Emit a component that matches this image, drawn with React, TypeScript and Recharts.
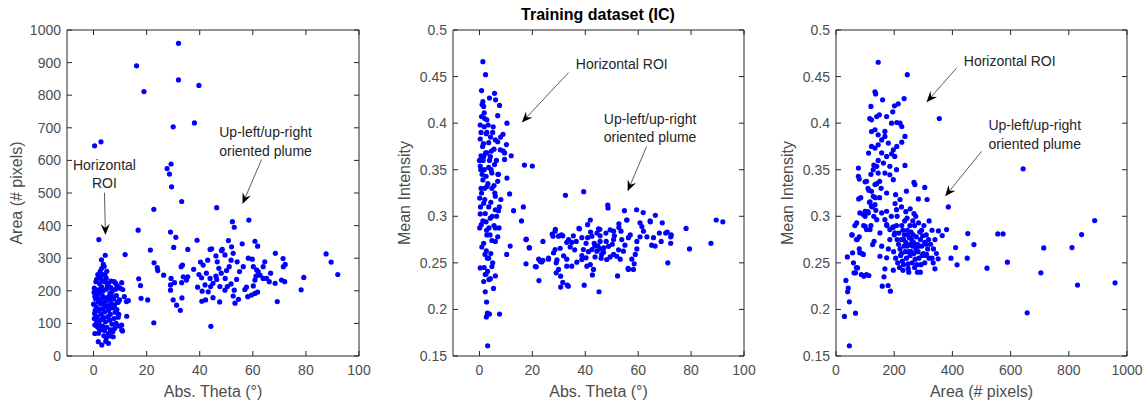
import React from "react";
import {
  ScatterChart,
  Scatter,
  XAxis,
  YAxis,
  ReferenceLine,
  ReferenceDot,
} from "recharts";

// panel 1: abs theta (deg) vs area (# pixels)
const thetaArea: [number, number][] = [
  [0.4, 645], [2.8, 657], [16.2, 890], [19, 811], [32, 959], [32, 847], [39.7, 830], [30, 703], [38, 715],
  [29.2, 589], [27.7, 575], [28.6, 558], [29.4, 519], [33.2, 474], [22.7, 450], [46.4, 455], [16.8, 386],
  [29, 380], [31, 364], [39, 355], [52.3, 412], [53, 395], [58.5, 417], [30.2, 333], [35.5, 327], [21.4, 325],
  [50.8, 354], [60.8, 352], [61.8, 337], [56, 344], [44.5, 329], [48.5, 327], [68.5, 315], [71.4, 299],
  [87.6, 313], [89.5, 288], [92, 250], [79.2, 241], [78.2, 203], [69.2, 167], [72.2, 281], [22.8, 286],
  [24, 271], [24.2, 262], [26.4, 248], [17, 237], [17.7, 216], [17.9, 177], [20.4, 172], [22.7, 102],
  [44.2, 91], [30.5, 225], [30, 172], [31.3, 156], [32.7, 140], [33.3, 178], [29, 202], [29, 218], [29.2, 238],
  [33.5, 279], [33, 274], [33.8, 243], [33.2, 225], [35, 233], [35.5, 243], [37.7, 266], [40.3, 288],
  [41.3, 279], [39.7, 250], [40.7, 240], [39.2, 211], [40.9, 199], [40.8, 168], [42.2, 172], [43.2, 197],
  [45, 179], [47.5, 166], [43, 294], [43.9, 327], [46.1, 307], [46.6, 289], [47.2, 269], [48.1, 254],
  [49.6, 238], [50.4, 213], [49.5, 202], [51.8, 221], [53, 202], [52.6, 184], [53.3, 162], [54.6, 174],
  [57, 204], [57.6, 211], [58.1, 182], [59.5, 187], [60.8, 192], [61.8, 196], [60.2, 215], [60.8, 233],
  [61.2, 245], [62, 259], [60.2, 274], [59.8, 297], [58.3, 300], [56.4, 274], [55, 259], [54.1, 289],
  [52.6, 315], [51.8, 294], [51.1, 274], [50.1, 262], [52, 335], [48.2, 323], [49.5, 310], [42.5, 254],
  [43.9, 238], [45, 223], [46.4, 235], [42, 218], [44.1, 213], [46.1, 245], [47.6, 213], [53.9, 235],
  [63.9, 274], [64.5, 289], [66.7, 254], [65.2, 238], [66.2, 228], [68.4, 223], [70.8, 233], [72, 228],
  [71.5, 274], [61.4, 264], [62.7, 248], [63.9, 238],
  [2.0, 357], [4.4, 309], [11.9, 311], [3.7, 281], [3.1, 269], [4.0, 275], [2.7, 245], [1.2, 235], [4.1, 228],
  [5.6, 223], [7.8, 228], [10.6, 225], [10.0, 208], [0.3, 208], [1.8, 203], [6.2, 192], [0.5, 182], [11.6, 182],
  [13.1, 170], [9.3, 165], [0.0, 159], [4.3, 154], [2.4, 144], [8.1, 134], [12.5, 122], [9.3, 119], [0.5, 95],
  [10.6, 80], [2.4, 80], [0.5, 69], [5.6, 69], [7.4, 59], [1.8, 44], [3.1, 34], [5.6, 39], [4.6, 45],
  [0.8, 175], [1.5, 190], [2.2, 198], [3.0, 212], [3.6, 200], [4.8, 205], [5.2, 216], [6.5, 210], [7.0, 198],
  [8.3, 205], [9.0, 215], [1.0, 150], [1.7, 165], [2.5, 172], [3.3, 185], [4.0, 178], [4.6, 168], [5.3, 180],
  [6.0, 172], [6.8, 160], [7.5, 175], [8.6, 185], [9.8, 172], [0.4, 130], [1.3, 120], [2.0, 138], [2.8, 128],
  [3.5, 145], [4.2, 135], [5.0, 150], [5.7, 140], [6.3, 128], [7.1, 148], [7.9, 155], [8.8, 142], [1.1, 108],
  [2.1, 100], [2.9, 112], [3.8, 118], [4.5, 105], [5.4, 120], [6.1, 110], [6.9, 98], [7.7, 115], [8.5, 100],
  [9.6, 92], [10.9, 77], [1.6, 88], [2.6, 85], [3.4, 92], [4.1, 78], [5.0, 88], [6.4, 80], [7.3, 75], [8.0, 85],
  [1.9, 70], [3.9, 62], [4.8, 55], [6.2, 62], [0.9, 228], [1.9, 240], [2.3, 222], [3.2, 232], [4.8, 238],
  [6.6, 230], [8.4, 222], [0.2, 195], [0.6, 140], [0.3, 115], [1.4, 178], [2.7, 160], [3.8, 162], [5.9, 155],
  [6.7, 185], [8.9, 165], [9.5, 128], [11.0, 204], [12.4, 167], [10.6, 95], [3.0, 295], [2.5, 260], [1.6, 250],
  [3.5, 250], [4.3, 248], [5.0, 260],
];

// panel 2: abs theta (deg) vs mean intensity
const thetaIntensity: [number, number][] = [
  [1.3, 0.466], [2.3, 0.452], [0.8, 0.435], [5.7, 0.432], [3.8, 0.427], [6.1, 0.425], [7.6, 0.419], [1.3, 0.423],
  [1.6, 0.418], [6.9, 0.408], [10.4, 0.4], [5.2, 0.396], [8.9, 0.388], [10.2, 0.377], [9.5, 0.368], [12, 0.365],
  [9.5, 0.361], [10.4, 0.341], [11.4, 0.324], [8.1, 0.318], [12.9, 0.306], [16.6, 0.31], [17, 0.355], [20, 0.354],
  [15.9, 0.295], [11.6, 0.268], [10.3, 0.259], [17.6, 0.275], [18.9, 0.266], [17.6, 0.249], [21.1, 0.246],
  [22.5, 0.231], [24, 0.273], [22.4, 0.254], [23.5, 0.251], [26.1, 0.255], [27.5, 0.281], [28.7, 0.286], [31, 0.28],
  [32.5, 0.3225], [39.4, 0.3264], [37.6, 0.287], [41.9, 0.296], [45.5, 0.286], [48.5, 0.312], [48.6, 0.309],
  [54.8, 0.306], [55.7, 0.296], [59.4, 0.307], [61.9, 0.304], [66.5, 0.301], [64.6, 0.294], [69.1, 0.293],
  [71, 0.283], [72.5, 0.28], [72.3, 0.271], [71.2, 0.25], [78.1, 0.287], [79.4, 0.265], [87.5, 0.271],
  [89.5, 0.296], [92, 0.294], [39.6, 0.226], [45.2, 0.219], [52.2, 0.236], [56.2, 0.244], [58.2, 0.243],
  [33.2, 0.226], [30.7, 0.224], [31.5, 0.229], [42.7, 0.237],
  [3.1, 0.161], [3, 0.196], [2.6, 0.192], [3.8, 0.195], [7.6, 0.195], [2.7, 0.208], [2.2, 0.219], [5.3, 0.2225],
  [1.6, 0.23], [6, 0.236], [4.1, 0.233], [2.2, 0.2375], [3.1, 0.241], [0.3, 0.2446], [4.7, 0.246], [3.5, 0.255],
  [2.1, 0.259], [0.9, 0.267], [2.6, 0.263], [1.6, 0.271], [4.7, 0.274], [6.9, 0.278], [6, 0.273], [2.8, 0.28],
  [7.4, 0.2875], [6, 0.2875], [0.1, 0.2875], [0.7, 0.291], [3.6, 0.2875], [2.5, 0.294], [4.1, 0.298],
  [7.2, 0.306], [6, 0.307], [0.3, 0.3025], [2.2, 0.303], [1.6, 0.314], [4.3, 0.315], [6, 0.3215], [0.1, 0.3196],
  [0.6, 0.33], [2.8, 0.332], [4.7, 0.33], [6.9, 0.3375], [1.3, 0.339], [0, 0.36], [0.3, 0.354], [1.8, 0.35],
  [3.5, 0.3525], [4.7, 0.3465], [7.2, 0.345], [5.7, 0.3555], [2.8, 0.368], [1.6, 0.364], [4.1, 0.364],
  [5.5, 0.372], [7.9, 0.3714], [1.2, 0.375], [3.5, 0.379], [6.9, 0.38], [6, 0.382], [0.3, 0.383], [0.6, 0.39],
  [2.6, 0.3886], [1.8, 0.396], [0.3, 0.398], [2.8, 0.4036], [0.8, 0.407], [1.8, 0.411],
  [1.0, 0.42], [2.0, 0.405], [3.3, 0.398], [4.2, 0.385], [1.5, 0.378], [2.3, 0.368], [3.8, 0.36], [4.5, 0.37],
  [1.0, 0.345], [2.5, 0.343], [3.2, 0.335], [5.5, 0.333], [0.8, 0.325], [2.0, 0.318], [3.5, 0.31], [4.8, 0.3],
  [1.3, 0.295], [2.7, 0.285], [4.0, 0.28], [5.5, 0.29], [6.5, 0.3], [7.0, 0.345], [8.0, 0.385], [9.0, 0.37],
  [6.4, 0.36], [5.0, 0.39], [2.8, 0.39], [0.6, 0.365], [0.4, 0.31], [3.0, 0.255], [4.3, 0.26], [1.8, 0.245],
  [2.5, 0.238], [3.6, 0.232], [5.0, 0.25], [0.5, 0.35], [1.4, 0.36], [2.0, 0.33], [4.4, 0.35], [5.8, 0.325],
  [7.5, 0.31],
  [72.3, 0.278], [70.4, 0.282], [68, 0.282], [65.8, 0.277], [68.7, 0.273], [65.1, 0.269], [66.4, 0.268],
  [63.3, 0.278], [62, 0.284], [61.4, 0.289], [60.7, 0.293], [64.5, 0.295], [55.7, 0.296], [52.7, 0.292],
  [52.7, 0.288], [50.7, 0.284], [49.4, 0.2855], [47.8, 0.282], [45, 0.2865], [44.4, 0.282], [45.6, 0.279],
  [40.9, 0.291], [37.8, 0.2865], [36.6, 0.273], [38.7, 0.277], [40.9, 0.277], [42.5, 0.2786], [40.3, 0.271],
  [43.4, 0.271], [45.6, 0.273], [47.9, 0.273], [50.7, 0.275], [53.8, 0.275], [56.3, 0.277], [59.5, 0.273],
  [60.7, 0.278], [59.5, 0.265], [58.9, 0.259], [57.6, 0.254], [58.5, 0.249], [56.3, 0.243], [33.6, 0.225],
  [28, 0.2607], [28.6, 0.2643], [29.9, 0.2786], [28.6, 0.284], [27.8, 0.2786], [31.5, 0.279], [33.7, 0.275],
  [34.9, 0.272], [33, 0.272], [34.3, 0.2671], [30.5, 0.2657], [31.8, 0.2575], [33, 0.254], [29.3, 0.2532],
  [29, 0.25], [29.9, 0.243], [29, 0.2393], [30.7, 0.2357], [33, 0.2464], [34.9, 0.2464], [36.8, 0.2507],
  [38.7, 0.2536], [40.3, 0.2554], [40.6, 0.2464], [41.9, 0.2482], [43.1, 0.243], [43.7, 0.2564],
  [44.4, 0.2625], [45.6, 0.265], [46.9, 0.2614], [48.1, 0.2536], [49.4, 0.2564], [50.7, 0.259], [51.9, 0.257],
  [53.2, 0.254], [54.4, 0.2625], [52.6, 0.264], [48.8, 0.2678], [42.5, 0.2643], [39.3, 0.2643],
  [38.7, 0.2578], [23, 0.2518], [21.5, 0.2457], [24, 0.2528], [26.1, 0.254], [17.7, 0.2754], [18.8, 0.2664],
  [44.8, 0.268], [46.2, 0.259], [47.0, 0.266], [41.2, 0.262], [43.6, 0.268], [46.0, 0.255], [50.2, 0.27],
  [55.0, 0.269], [57.0, 0.28], [42.0, 0.283], [36.0, 0.264], [35.5, 0.279], [53.5, 0.284], [51.0, 0.279],
];

// panel 3: area (# pixels) vs mean intensity
const areaIntensity: [number, number][] = [
  [145, 0.4654], [245, 0.452], [355, 0.405], [643, 0.351], [386, 0.31], [380, 0.2857], [365, 0.2793],
  [305, 0.331], [313, 0.318], [453, 0.2814], [474, 0.2696], [411, 0.2664], [395, 0.255], [416, 0.2479],
  [451, 0.255], [519, 0.2443], [556, 0.2811], [574, 0.2811], [589, 0.2507], [704, 0.2393], [714, 0.266],
  [811, 0.2664], [844, 0.2804], [889, 0.2954], [830, 0.2261], [959, 0.2286], [657, 0.1964], [352, 0.2843],
  [351, 0.2543], [340, 0.2436], [334, 0.25], [311, 0.259],
  [46, 0.161], [29, 0.1925], [67, 0.196], [46, 0.2082], [40, 0.219], [42, 0.223], [34, 0.2311], [62, 0.2393],
  [39, 0.2564], [57, 0.2607], [55, 0.28], [67, 0.2393], [74, 0.2446], [73, 0.275], [80, 0.278], [82, 0.2607],
  [94, 0.259], [87, 0.2375], [96, 0.2357], [105, 0.2375], [113, 0.2364], [71, 0.2929], [78, 0.3186],
  [77, 0.3429], [77, 0.3518], [82, 0.3036], [94, 0.3018], [100, 0.3054], [111, 0.3036], [105, 0.2857],
  [100, 0.2893], [117, 0.2857], [105, 0.3375], [113, 0.3279], [112, 0.3679], [122, 0.375], [117, 0.3154],
  [122, 0.3107], [126, 0.2696], [131, 0.2732], [122, 0.3268], [128, 0.3214], [134, 0.3125], [137, 0.3064],
  [140, 0.2964],
  [122, 0.4036], [116, 0.405], [120, 0.4179], [134, 0.4336], [136, 0.4314], [160, 0.425], [149, 0.409],
  [140, 0.407], [122, 0.391], [134, 0.3929], [145, 0.3875], [168, 0.3911], [174, 0.407], [191, 0.4],
  [201, 0.4186], [214, 0.4207], [234, 0.4264], [195, 0.4121], [209, 0.4007], [220, 0.4], [226, 0.3964],
  [237, 0.3857], [226, 0.3796], [209, 0.375], [197, 0.3714], [180, 0.3786], [168, 0.3857], [157, 0.382],
  [145, 0.3768], [134, 0.3732], [157, 0.368], [174, 0.3643], [191, 0.3671], [202, 0.3643], [163, 0.3571],
  [185, 0.3536], [237, 0.3546], [140, 0.3536], [128, 0.35], [145, 0.3464], [168, 0.3464], [185, 0.3446],
  [208, 0.35], [197, 0.3393], [150, 0.3375], [134, 0.334], [174, 0.325], [205, 0.3232], [220, 0.318],
  [203, 0.3136], [208, 0.3071], [174, 0.3054], [168, 0.2964], [174, 0.291], [157, 0.3036], [151, 0.2821],
  [185, 0.2857], [197, 0.2886], [202, 0.2821], [157, 0.2679], [174, 0.2554], [151, 0.2571], [168, 0.2436],
  [197, 0.2421], [165, 0.235], [159, 0.225], [179, 0.2257], [187, 0.2196], [242, 0.327], [268, 0.3364],
  [271, 0.334], [283, 0.3186],
  [200, 0.28], [210, 0.275], [215, 0.27], [220, 0.265], [225, 0.26], [230, 0.285], [235, 0.28], [240, 0.272],
  [245, 0.268], [250, 0.262], [255, 0.258], [260, 0.275], [265, 0.28], [270, 0.29], [275, 0.265], [280, 0.27],
  [285, 0.255], [290, 0.275], [295, 0.268], [300, 0.26], [305, 0.272], [310, 0.28], [315, 0.265], [320, 0.255],
  [325, 0.27], [330, 0.285], [335, 0.265], [340, 0.275], [205, 0.255], [212, 0.25], [218, 0.245], [222, 0.258],
  [228, 0.252], [232, 0.248], [238, 0.262], [242, 0.255], [248, 0.249], [252, 0.277], [258, 0.283], [262, 0.268],
  [268, 0.26], [272, 0.254], [278, 0.248], [282, 0.262], [288, 0.283], [292, 0.248], [298, 0.279], [302, 0.29],
  [308, 0.258], [318, 0.275], [195, 0.288], [198, 0.262], [208, 0.29], [226, 0.29], [236, 0.295], [244, 0.298],
  [254, 0.29], [264, 0.295], [274, 0.3], [284, 0.293], [294, 0.285], [216, 0.282], [224, 0.275], [234, 0.268],
  [246, 0.28], [256, 0.27], [266, 0.272], [276, 0.278], [286, 0.268], [296, 0.258], [230, 0.242], [250, 0.24],
  [270, 0.245], [290, 0.24], [262, 0.25], [240, 0.305], [255, 0.308], [268, 0.303], [210, 0.3], [225, 0.31],
  [190, 0.3], [185, 0.275], [180, 0.265], [175, 0.29], [245, 0.285], [232, 0.275], [258, 0.262], [272, 0.268],
  [310, 0.27], [330, 0.255], [345, 0.26], [320, 0.295], [305, 0.25], [280, 0.24], [248, 0.244],
  [55, 0.28], [65, 0.29], [70, 0.275], [80, 0.265], [90, 0.26], [95, 0.29], [100, 0.3], [110, 0.305],
  [120, 0.29], [125, 0.31], [85, 0.32], [80, 0.34], [100, 0.337], [110, 0.33], [120, 0.345], [130, 0.355],
  [140, 0.335], [150, 0.32], [155, 0.33], [135, 0.32], [145, 0.36], [115, 0.315], [130, 0.3], [60, 0.25],
  [70, 0.245],
];

const thetaTicks = [0, 20, 40, 60, 80, 100];
const areaTicks = [0, 100, 200, 300, 400, 500, 600, 700, 800, 900, 1000];
const areaTicksWide = [0, 200, 400, 600, 800, 1000];
const intensityTicks = [0.15, 0.2, 0.25, 0.3, 0.35, 0.4, 0.45, 0.5];

const BLUE = "#0000ff";
const AXIS = "#262626";
const TICK = "#4d4d4d";
const FONT = "'Liberation Sans', Arial, Helvetica, sans-serif";

const toPts = (arr: [number, number][]) => arr.map(([x, y]) => ({ x, y }));

const Dot = (p: any) => <circle cx={p.cx} cy={p.cy} r={2.6} fill={BLUE} />;

const Arrow = (p: any) => {
  const { x1, y1, x2, y2 } = p;
  if (x1 == null) return null;
  const a = Math.atan2(y2 - y1, x2 - x1);
  const c = Math.cos(a), s = Math.sin(a);
  const L = 11, W = 4.5;
  const bx = x2 - L * c, by = y2 - L * s;
  const nx = x2 - 0.65 * L * c, ny = y2 - 0.65 * L * s;
  const pts = `${x2},${y2} ${bx - W * s},${by + W * c} ${nx},${ny} ${bx + W * s},${by - W * c}`;
  return (
    <g>
      <line x1={x1} y1={y1} x2={nx} y2={ny} stroke="#333" strokeWidth={0.8} />
      <polygon points={pts} fill="#000" />
    </g>
  );
};

const Note = ({ text }: { text: string }) => (p: any) =>
  (
    <text x={p.cx} y={p.cy} textAnchor="middle" dominantBaseline="central" fontSize={14} fill={AXIS} fontFamily={FONT}>
      {text}
    </text>
  );

const fmt = (v: number) => String(Number(v.toFixed(2)));
const noTick = () => <g />;

interface Ann {
  lines: { x: number; y: number; text: string }[];
  arrows: { x1: number; y1: number; x2: number; y2: number }[];
}

interface PanelProps {
  left: number;
  width: number;
  ml: number;
  mr: number;
  yw: number;
  ylabOff: number;
  data: [number, number][];
  xDomain: [number, number];
  xTicks: number[];
  yDomain: [number, number];
  yTicks: number[];
  xLabel: string;
  yLabel: string;
  ann: Ann[];
}

function Panel(p: PanelProps) {
  const tickStyle = { fontSize: 14, fill: TICK, fontFamily: FONT };
  return (
    <div style={{ position: "absolute", left: p.left, top: 0 }}>
      <ScatterChart width={p.width} height={405} margin={{ top: 29, right: p.mr - 1, bottom: 4, left: p.ml }}>
        <XAxis
          xAxisId={0}
          type="number"
          dataKey="x"
          domain={p.xDomain}
          ticks={p.xTicks}
          allowDataOverflow
          height={45}
          tickSize={-5}
          tickMargin={14}
          stroke={AXIS}
          tick={tickStyle}
          tickFormatter={fmt}
          label={{ value: p.xLabel, position: "insideBottom", offset: 4, style: { fontSize: 16, fill: TICK, fontFamily: FONT } }}
        />
        <XAxis
          xAxisId="top"
          orientation="top"
          type="number"
          dataKey="x"
          domain={p.xDomain}
          ticks={p.xTicks}
          allowDataOverflow
          height={1}
          tickSize={-5}
          stroke={AXIS}
          tick={noTick}
        />
        <YAxis
          yAxisId={0}
          type="number"
          dataKey="y"
          domain={p.yDomain}
          ticks={p.yTicks}
          allowDataOverflow
          width={p.yw}
          tickSize={-5}
          tickMargin={11}
          stroke={AXIS}
          tick={tickStyle}
          tickFormatter={fmt}
          label={{ value: p.yLabel, angle: -90, position: "insideLeft", offset: p.ylabOff, style: { textAnchor: "middle", fontSize: 16, fill: TICK, fontFamily: FONT } }}
        />
        <YAxis
          yAxisId="right"
          orientation="right"
          type="number"
          dataKey="y"
          domain={p.yDomain}
          ticks={p.yTicks}
          allowDataOverflow
          width={1}
          tickSize={-5}
          stroke={AXIS}
          tick={noTick}
        />
        <Scatter data={toPts(p.data)} shape={Dot} isAnimationActive={false} />
        <Scatter data={[]} xAxisId="top" yAxisId="right" isAnimationActive={false} />
        {p.ann.map((a, i) => (
          <React.Fragment key={i}>
            {a.arrows.map((s, j) => (
              <ReferenceLine
                key={"a" + j}
                segment={[{ x: s.x1, y: s.y1 }, { x: s.x2, y: s.y2 }]}
                shape={Arrow}
                ifOverflow="visible"
              />
            ))}
            {a.lines.map((t, j) => (
              <ReferenceDot key={"t" + j} x={t.x} y={t.y} r={0} shape={Note({ text: t.text })} ifOverflow="visible" />
            ))}
          </React.Fragment>
        ))}
      </ScatterChart>
    </div>
  );
}

const ann1: Ann[] = [
  { lines: [{ x: 4.1, y: 586, text: "Horizontal" }, { x: 4.1, y: 530, text: "ROI" }], arrows: [{ x1: 4.1, y1: 501, x2: 4.5, y2: 371 }] },
  { lines: [{ x: 64.8, y: 686, text: "Up-left/up-right" }, { x: 64.8, y: 630, text: "oriented plume" }], arrows: [{ x1: 63.3, y1: 603, x2: 56.1, y2: 466 }] },
];
const ann2: Ann[] = [
  { lines: [{ x: 53.8, y: 0.4632, text: "Horizontal ROI" }], arrows: [{ x1: 33.7, y1: 0.4543, x2: 16, y2: 0.4007 }] },
  { lines: [{ x: 64.5, y: 0.4046, text: "Up-left/up-right" }, { x: 64.5, y: 0.385, text: "oriented plume" }], arrows: [{ x1: 63.2, y1: 0.375, x2: 56, y2: 0.3268 }] },
];
const ann3: Ann[] = [
  { lines: [{ x: 597, y: 0.4671, text: "Horizontal ROI" }], arrows: [{ x1: 414, y1: 0.459, x2: 311, y2: 0.4225 }] },
  { lines: [{ x: 683, y: 0.3975, text: "Up-left/up-right" }, { x: 683, y: 0.378, text: "oriented plume" }], arrows: [{ x1: 500, y1: 0.3696, x2: 375, y2: 0.3214 }] },
];

export default function App() {
  return (
    <div style={{ position: "absolute", left: 0, top: 0, width: 1147, height: 405, background: "#fff", fontFamily: FONT }}>
      <Panel left={0} width={380} ml={10} mr={21} yw={57} ylabOff={6} data={thetaArea}
        xDomain={[-10, 100]} xTicks={thetaTicks} yDomain={[0, 1000]} yTicks={areaTicks}
        xLabel="Abs. Theta (°)" yLabel="Area (# pixels)" ann={ann1} />
      <Panel left={380} width={380} ml={13} mr={16} yw={60} ylabOff={11} data={thetaIntensity}
        xDomain={[-10, 100]} xTicks={thetaTicks} yDomain={[0.15, 0.5]} yTicks={intensityTicks}
        xLabel="Abs. Theta (°)" yLabel="Mean Intensity" ann={ann2} />
      <Panel left={760} width={387} ml={16} mr={20} yw={60} ylabOff={11} data={areaIntensity}
        xDomain={[0, 1000]} xTicks={areaTicksWide} yDomain={[0.15, 0.5]} yTicks={intensityTicks}
        xLabel="Area (# pixels)" yLabel="Mean Intensity" ann={ann3} />
      <div style={{ position: "absolute", left: 448, top: 5, width: 300, textAlign: "center", fontSize: 16, fontWeight: "bold", lineHeight: "20px", color: "#000" }}>
        Training dataset (IC)
      </div>
    </div>
  );
}
